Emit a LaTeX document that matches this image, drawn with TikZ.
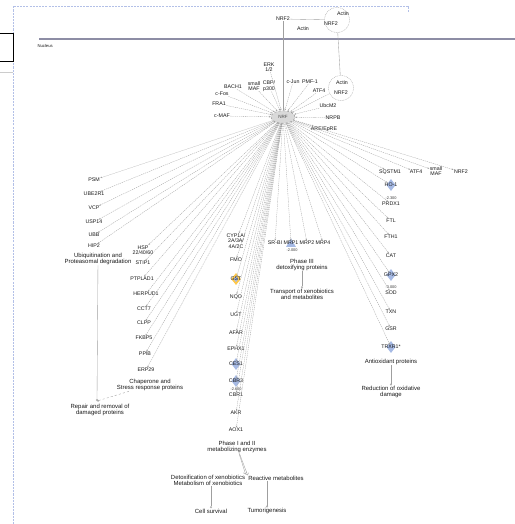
\documentclass[tikz,border=0pt]{standalone}
\usepackage{fontspec}
\setmainfont{Liberation Sans}
\usetikzlibrary{arrows.meta,shapes.geometric,backgrounds}

\begin{document}
\begin{tikzpicture}[x=0.05cm,y=-0.05cm,
	gene/.style={font=\fontsize{7.5}{7.6}\selectfont,inner sep=0.6pt,align=center,text=black!90},
	proc/.style={font=\fontsize{8.5}{8.6}\selectfont,inner sep=0.6pt,align=center,text=black!90},
	val/.style={font=\fontsize{5.5}{5.5}\selectfont,inner sep=0.3pt,text=black!80},
	fan/.style={draw=gray!75,dash pattern=on 1.8pt off 1.2pt,line width=0.45pt,-{Stealth[length=2.8pt,width=2.2pt]}},
	link/.style={draw=gray!75,line width=0.5pt},
	ends/.style={link,-{Circle[open,length=3pt,width=3pt]}},
	hitmark/.style={diamond,fill=cyan!45!blue!35,inner sep=0pt,minimum width=13pt,minimum height=17pt},
	cplx/.style={circle,draw=gray!65,dash pattern=on 1.5pt off 1pt,line width=0.45pt,minimum size=36pt,inner sep=0pt}]
	\useasboundingbox (0,0) rectangle (515,524);

	%框
	\draw[cyan!40!blue!30,dash pattern=on 3pt off 1.5pt,line width=0.6pt] (13,524) -- (13,6) -- (408,6) -- (408,12);
	\draw[line width=0.8pt] (-1,33) rectangle (13,61);
	\draw[gray!40,line width=0.5pt] (0,72) -- (13,72);

	%核膜
	\draw[line width=4pt,blue!12!gray!80] (39,39) -- (515,39);
	\node[gene,anchor=west,font=\fontsize{6}{6}\selectfont] (nuc) at (37,46) {Nucleus};

	%NRF2 复合物
	\node[gene] (nrft) at (283,19) {NRF2};
	\node[gene] (actt) at (303,29) {Actin};
	\node[cplx] (cxt) at (337,20) {};
	\node[gene] (nrfc) at (331,24) {NRF2};
	\node[gene] (actc) at (343,14) {Actin};
	\node[cplx] (cxn) at (341,88) {};
	\node[gene] (actn) at (342,83) {Actin};
	\node[gene] (nrfn) at (341,93) {NRF2};
	\draw[link] (nrft) -- (cxt);
	\draw[link] (cxt) -- (cxn);

	\node[ellipse,fill=gray!30,draw=gray!80,dashed,line width=0.8pt,minimum width=34pt,minimum height=18pt,inner sep=0pt,
		text=black!70,font=\fontsize{6.5}{6.5}\selectfont] (hub) at (283,117) {NRF};
	\draw[link] (nrft) -- (hub);

	%调节因子
	\node[gene] (erk) at (269,67) {ERK\\1/2};
	\node[gene] (smaf) at (254,86) {small\\MAF};
	\node[gene] (cbp) at (269,86) {CBP/\\p300};
	\foreach \n/\t/\x/\y in {bach/BACH1/233/87, cjun/c-Jun/293/82, pmf/PMF-1/310/82, atf/ATF4/319/91,
		cfos/c-Fos/222/94, fra/FRA1/219/104, cmaf/c-MAF/222/116, ubc/UbcM2/328/106, nrpb/NRPB/333/118}
		\node[gene] (\n) at (\x,\y) {\t};
	\node[gene] (are) at (324,129) {ARE/EpRE};
	\foreach \n in {erk,smaf,cbp,bach,cjun,pmf,atf,cfos,fra,cmaf,ubc,nrpb,cxn}
		\draw[fan] (\n) -- (hub);
	\draw[fan] (hub) -- (are);

	%泛素化
	\foreach \n/\t/\y in {psm/PSM/180, ube/UBE2R1/194, vcp/VCP/208, usp/USP14/222, ubb/UBB/235, hip/HIP2/246}
		\node[gene] (\n) at (94,\y) {\t};
	\node[proc] (ubq) at (98,259) {Ubiquitination and\\Proteasomal degradation};

	%分子伴侣
	\node[gene] (hsp) at (143,250) {HSP\\22/40/60};
	\foreach \n/\t/\x/\y in {stip/STIP1/143/263, ptp/PTPLAD1/142/279, herp/HERPUD1/146/294, cct/CCT7/144/309,
		clpp/CLPP/144/323, fkbp/FKBP5/144/338, ppib/PPIB/145/354, erp/ERP29/146/370}
		\node[gene] (\n) at (\x,\y) {\t};
	\node[proc] (chap) at (150,385) {Chaperone and\\Stress response proteins};
	\coordinate (repc) at (97,401);
	\node[proc] (rep) at (100,410) {Repair and removal of\\damaged proteins};
	\draw[ends] (ubq) -- (repc);
	\draw[ends,dashed] (chap) -- (repc);

	%I/II 相
	\begin{pgfonlayer}{background}
		\node[diamond,fill=orange!60!yellow!70,inner sep=0pt,minimum width=14pt,minimum height=17pt] at (236,279) {};
		\node[hitmark,minimum width=7pt,minimum height=9pt] at (236,279) {};
		\foreach \y in {364,381} \node[hitmark] at (236,\y) {};
		\node[hitmark,shape=regular polygon,regular polygon sides=3,minimum size=16pt] at (291,244) {};
		\foreach \y in {185,275,347} \node[hitmark] at (391,\y) {};
	\end{pgfonlayer}
	\node[gene] (cyp) at (236,241) {CYP1A/\\2A/3A/\\4A/2C};
	\foreach \n/\t/\y in {fmo/FMO/260, gst/GST/279, nqo/NQO/297, ugt/UGT/315, afar/AFAR/333, ephx/EPHX1/349,
		ces/CES1/364, cbrt/CBR3/381, cbr/CBR1/395, akr/AKR/413, aox/AOX1/430}
		\node[gene] (\n) at (236,\y) {\t};
	\node[val] at (236,389) {-2.600};
	\node[proc] (ph12) at (237,447) {Phase I and II\\metabolizing enzymes};
	\node[proc] (detox) at (208,480) {Detoxification of xenobiotics\\Metabolism of xenobiotics};
	\node[proc] (reac) at (276,478) {Reactive metabolites};
	\node[proc] (surv) at (211,511) {Cell survival};
	\node[proc] (tum) at (267,511) {Tumorigenesis};
	\draw[link,-{Straight Barb[length=2.5pt]}] (ph12) -- (detox.north east);
	\draw[link,-{Straight Barb[length=2.5pt]}] (ph12) -- (reac.north west);
	\draw[ends] (surv.north |- detox.south) -- (surv.north);
	\draw[ends] (tum.north |- reac.south) -- (tum.north);

	%III 相
	\foreach \n/\t/\x in {srb/SR-BI/275, mrpa/MRP1/291, mrpb/MRP2/307, mrpd/MRP4/323}
		\node[gene] (\n) at (\x,243) {\t};
	\node[val] at (292,250) {-2.000};
	\node[proc] (ph3) at (302,265) {Phase III\\detoxifying proteins};
	\node[proc] (trn) at (302,294) {Transport of xenobiotics\\and metabolites};
	\draw[ends] (ph3) -- (trn);

	%抗氧化
	\node[gene] (sqst) at (390,172) {SQSTM1};
	\node[gene] (atfb) at (416,172) {ATF4};
	\node[gene] (smafb) at (436,171) {small\\MAF};
	\node[gene] (nrfb) at (461,172) {NRF2};
	\foreach \n/\t/\y in {ho/HO-1/185, prdx/PRDX1/204, ftl/FTL/221, fth/FTH1/237, cat/CAT/256, gpx/GPX2/275,
		sod/SOD/293, txn/TXN/312, gsr/GSR/329, trx/TRXR1*/347}
		\node[gene] (\n) at (391,\y) {\t};
	\node[val] at (391,198) {-2.300};
	\node[val] at (391,287) {-3.000};
	\node[proc] (anti) at (391,362) {Antioxidant proteins};
	\node[proc] (red) at (391,392) {Reduction of oxidative\\damage};
	\draw[ends] (anti) -- (red);

	%靶基因
	\foreach \n in {psm,ube,vcp,usp,ubb,hip,hsp,stip,ptp,herp,cct,clpp,fkbp,ppib,erp,
		cyp,fmo,gst,nqo,ugt,afar,ephx,ces,cbrt,cbr,akr,aox,srb,mrpa,mrpb,mrpd,
		sqst,atfb,smafb,nrfb,ho,prdx,ftl,fth,cat,gpx,sod,txn,gsr,trx}
		\draw[fan] (hub) -- (\n);
\end{tikzpicture}
\end{document}
